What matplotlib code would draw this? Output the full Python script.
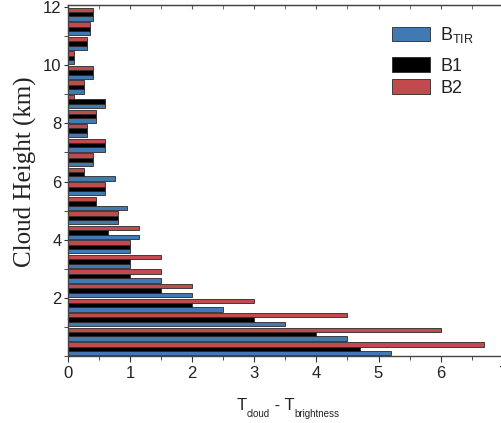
import matplotlib
matplotlib.use("Agg")
import matplotlib.pyplot as plt
import numpy as np
from matplotlib.ticker import MultipleLocator, NullFormatter
from matplotlib.patches import Patch

# Cloud height bins (km), bin centers every 0.5 km
heights = [0.25, 0.75, 1.25, 1.75, 2.25, 2.75, 3.25, 3.75, 4.25, 4.75, 5.25, 5.75,
           6.25, 6.75, 7.25, 7.75, 8.25, 8.75, 9.25, 9.75, 10.25, 10.75, 11.25, 11.75]

b_tir = [5.2, 4.5, 3.5, 2.5, 2.0, 1.5, 1.0, 1.0, 1.15, 0.8, 0.95, 0.6,
         0.75, 0.4, 0.6, 0.3, 0.45, 0.6, 0.25, 0.4, 0.1, 0.3, 0.35, 0.4]
b1 = [4.7, 4.0, 3.0, 2.0, 1.5, 1.0, 1.0, 1.0, 0.65, 0.8, 0.45, 0.6,
      0.25, 0.4, 0.6, 0.3, 0.45, 0.6, 0.25, 0.4, 0.1, 0.3, 0.35, 0.4]
b2 = [6.7, 6.0, 4.5, 3.0, 2.0, 1.5, 1.5, 1.0, 1.15, 0.8, 0.45, 0.6,
      0.25, 0.4, 0.6, 0.3, 0.45, 0.1, 0.25, 0.4, 0.1, 0.3, 0.35, 0.4]

series = [("$\\mathregular{B_{TIR}}$", b_tir, "#4379b3"),
          ("B1", b1, "#000000"),
          ("B2", b2, "#c04a4c")]

plt.rcParams["font.family"] = ["Liberation Sans", "DejaVu Sans"]
plt.rcParams["mathtext.fontset"] = "custom"
plt.rcParams["mathtext.rm"] = "Liberation Sans"

W, H = 501, 423
fig = plt.figure(figsize=(W / 100, H / 100), dpi=100)
ax = fig.add_axes([68 / W, 67 / H, 434.7 / W, 351 / H])

h = 0.15
y = np.array(heights)
for i, (name, vals, col) in enumerate(series):
    ax.barh(y + (i - 1) * h, vals, height=h, color=col,
            edgecolor="#2a2a2a", linewidth=0.6)

ax.set_xlim(0, 7)
ax.set_ylim(0, 12.07)
ax.set_yticks([2, 4, 6, 8, 10, 12])
ax.xaxis.set_major_locator(MultipleLocator(1))
ax.xaxis.set_minor_locator(MultipleLocator(0.5))
ax.yaxis.set_minor_locator(MultipleLocator(1))

ax.tick_params(axis="both", which="both", direction="out", labelsize=12,
               color="#333333", labelcolor="#222222")
ax.tick_params(axis="x", which="major", length=4)
ax.tick_params(axis="x", which="minor", length=3)
ax.tick_params(axis="y", which="both", length=3, pad=1.5)

# inward ticks along the top edge
top = ax.secondary_xaxis("top")
top.xaxis.set_major_locator(MultipleLocator(1))
top.xaxis.set_minor_locator(MultipleLocator(0.5))
top.xaxis.set_major_formatter(NullFormatter())
top.tick_params(which="both", direction="in", length=3, color="#555555")
top.spines["top"].set_color("#444444")

for s in ax.spines.values():
    s.set_color("#444444")
    s.set_linewidth(1.0)

ax.set_ylabel("Cloud Height (km)", family=["Liberation Serif", "DejaVu Serif"],
              fontsize=18, color="#222222")
ax.yaxis.set_label_coords(-0.071, 0.5256)

# x-axis title: T_cloud - T_brightness, built from pieces with small subscripts
txt_kw = dict(color="#222222", annotation_clip=False)
t1 = ax.annotate("T", xy=(236.7 / W, (H - 410) / H), xycoords="figure fraction",
                 va="baseline", ha="left", fontsize=12, **txt_kw)
t2 = ax.annotate("cloud", xy=(1, 0), xycoords=t1, xytext=(0, -3.2),
                 textcoords="offset points", va="baseline", ha="left",
                 fontsize=7, **txt_kw)
t3 = ax.annotate(" - T", xy=(1, 0), xycoords=(t2, t1), va="bottom", ha="left",
                 fontsize=12, **txt_kw)
t4 = ax.annotate("brightness", xy=(1, 0), xycoords=(t3, t2), va="bottom",
                 ha="left", fontsize=7, **txt_kw)

handles = [Patch(facecolor=c, edgecolor="#2a2a2a", linewidth=0.6, label=n)
           for n, _, c in series]
leg_kw = dict(frameon=False, fontsize=13, handlelength=2.1, handleheight=0.83,
              handletextpad=0.58, borderpad=0, borderaxespad=0,
              labelcolor="#222222")
leg1 = ax.legend(handles=handles[:1], loc="upper left",
                 bbox_to_anchor=(0.7453, (356 - 25) / 351), **leg_kw)
ax.add_artist(leg1)
ax.legend(handles=handles[1:], loc="upper left", labelspacing=0.25,
          bbox_to_anchor=(0.7453, (356 - 57.5) / 351), **leg_kw)

fig.savefig("out.png", dpi=100)
